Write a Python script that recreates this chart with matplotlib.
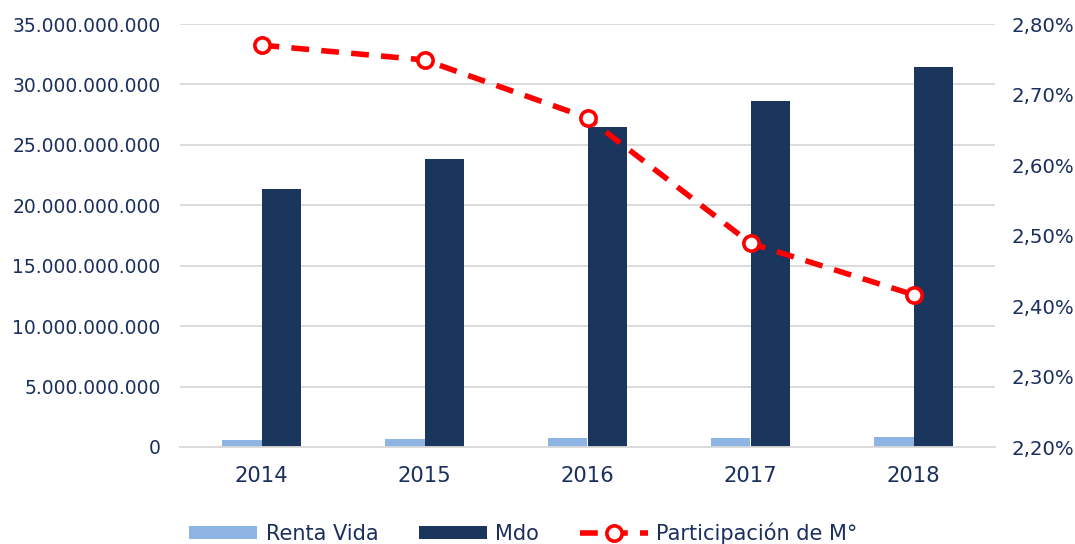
import matplotlib
matplotlib.use("Agg")
import matplotlib.pyplot as plt
import numpy as np
from matplotlib.ticker import FuncFormatter

years = ["2014", "2015", "2016", "2017", "2018"]
renta_vida = [0.58e9, 0.70e9, 0.74e9, 0.75e9, 0.80e9]
mdo = [21.35e9, 23.83e9, 26.48e9, 28.63e9, 31.44e9]
participacion = [2.770, 2.749, 2.667, 2.489, 2.416]

txt = "#1a2f5e"
plt.rcParams["font.family"] = ["DejaVu Sans"]

fig = plt.figure(figsize=(10.75, 5.44), dpi=100)
ax = fig.add_axes([180 / 1075, 1 - 447 / 544, 815 / 1075, 423 / 544])
ax2 = ax.twinx()

x = np.arange(len(years))
w = 0.24
ax.bar(x - w / 2, renta_vida, w, color="#8eb4e3", label="Renta Vida", zorder=2)
ax.bar(x + w / 2, mdo, w, color="#1a365d", label="Mdo", zorder=2)

ax2.plot(x, participacion, color="#ff0000", lw=4, dashes=(3.2, 2.2),
         marker="o", ms=11, mfc="white", mec="#ff0000", mew=2.6,
         label="Participación de M°", zorder=3)

ax.set_xlim(-0.5, 4.5)
ax.set_ylim(0, 35e9)
ax.set_yticks(np.arange(0, 35e9 + 1, 5e9))
ax.yaxis.set_major_formatter(FuncFormatter(lambda v, p: f"{v:,.0f}".replace(",", ".")))
ax2.set_ylim(2.20, 2.80)
ax2.set_yticks(np.arange(2.20, 2.801, 0.10))
ax2.yaxis.set_major_formatter(FuncFormatter(lambda v, p: f"{v:.2f}%".replace(".", ",")))

ax.set_xticks(x)
ax.set_xticklabels(years)
ax.grid(axis="y", color="#d9d9d9", lw=1.3, zorder=0)
ax.set_axisbelow(True)

for a in (ax, ax2):
    for s in a.spines.values():
        s.set_visible(False)
    a.tick_params(length=0, labelsize=13.5, colors=txt)
ax.spines["bottom"].set_visible(True)
ax.spines["bottom"].set_color("#d9d9d9")
ax.spines["bottom"].set_linewidth(1.3)
ax.tick_params(axis="y", pad=14)
ax.tick_params(axis="x", pad=14, labelsize=15.2)
ax2.tick_params(axis="y", pad=12, labelsize=14.2)

h1, l1 = ax.get_legend_handles_labels()
h2, l2 = ax2.get_legend_handles_labels()
fig.legend(h1 + h2, l1 + l2, loc="center", bbox_to_anchor=(0.487, 0.02),
           ncol=3, frameon=False, fontsize=15, labelcolor=txt,
           handlelength=3.27, handleheight=0.53, columnspacing=1.95,
           handletextpad=0.4)

fig.savefig("out.png", dpi=100)
